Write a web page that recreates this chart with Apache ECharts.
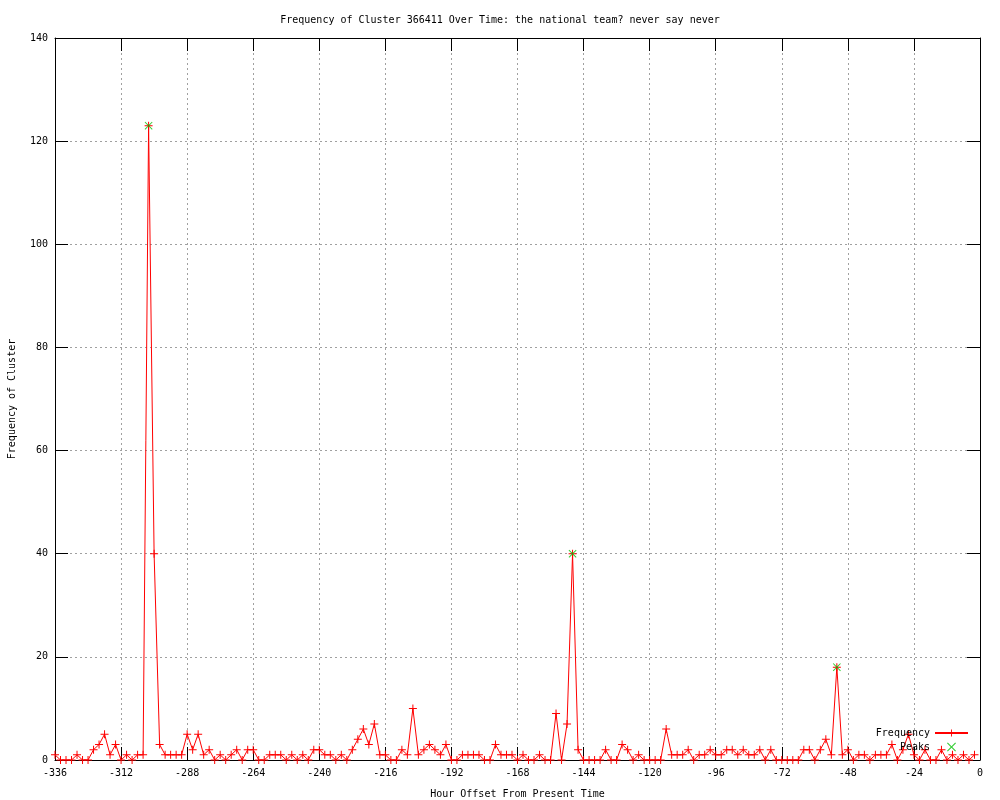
<!DOCTYPE html>
<html>
<head>
<meta charset="utf-8">
<script src="https://cdn.jsdelivr.net/npm/echarts@6/dist/echarts.min.js"></script>
<style>
html,body{margin:0;padding:0;background:#fff;}
#chart{width:1000px;height:800px;}
</style>
</head>
<body>
<div id="chart"></div>
<script>
const chartTitle = 'Frequency of Cluster 366411 Over Time: the national team? never say never';
const xAxisTitle = 'Hour Offset From Present Time';
const yAxisTitle = 'Frequency of Cluster';

const hours = [
-336,-334,-332,-330,-328,-326,-324,-322,-320,-318,
-316,-314,-312,-310,-308,-306,-304,-302,-300,-298,
-296,-294,-292,-290,-288,-286,-284,-282,-280,-278,
-276,-274,-272,-270,-268,-266,-264,-262,-260,-258,
-256,-254,-252,-250,-248,-246,-244,-242,-240,-238,
-236,-234,-232,-230,-228,-226,-224,-222,-220,-218,
-216,-214,-212,-210,-208,-206,-204,-202,-200,-198,
-196,-194,-192,-190,-188,-186,-184,-182,-180,-178,
-176,-174,-172,-170,-168,-166,-164,-162,-160,-158,
-156,-154,-152,-150,-148,-146,-144,-142,-140,-138,
-136,-134,-132,-130,-128,-126,-124,-122,-120,-118,
-116,-114,-112,-110,-108,-106,-104,-102,-100,-98,
-96,-94,-92,-90,-88,-86,-84,-82,-80,-78,
-76,-74,-72,-70,-68,-66,-64,-62,-60,-58,
-56,-54,-52,-50,-48,-46,-44,-42,-40,-38,
-36,-34,-32,-30,-28,-26,-24,-22,-20,-18,
-16,-14,-12,-10,-8,-6,-4,-2
];

const frequency = [
1,0,0,0,1,0,0,2,3,5,
1,3,0,1,0,1,1,123,40,3,
1,1,1,1,5,2,5,1,2,0,
1,0,1,2,0,2,2,0,0,1,
1,1,0,1,0,1,0,2,2,1,
1,0,1,0,2,4,6,3,7,1,
1,0,0,2,1,10,1,2,3,2,
1,3,0,0,1,1,1,1,0,0,
3,1,1,1,0,1,0,0,1,0,
0,9,0,7,40,2,0,0,0,0,
2,0,0,3,2,0,1,0,0,0,
0,6,1,1,1,2,0,1,1,2,
1,1,2,2,1,2,1,1,2,0,
2,0,0,0,0,0,2,2,0,2,
4,1,18,1,2,0,1,1,0,1,
1,1,3,0,2,5,1,0,2,0,
0,2,0,1,0,1,0,1
];

const peakHours = [-302, -148, -52];
const peakValues = [123, 40, 18];

const xTicks = { min: -336, max: 0, interval: 24 };
const yTicks = { min: 0, max: 140, interval: 20 };

const font = 'DejaVu Sans Mono';
const plusSymbol = 'path://M3.5,0h1v8h-1zM0,3.5h8v1h-8z';
const crossSymbol = 'path://M0,0.7L0.7,0L4,3.3L7.3,0L8,0.7L4.7,4L8,7.3L7.3,8L4,4.7L0.7,8L0,7.3L3.3,4Z';

const freqData = hours.map((h, i) => [h, frequency[i]]);
const peakData = peakHours.map((h, i) => [h, peakValues[i]]);

const gridLine = { show: true, lineStyle: { color: '#a0a0a0', type: [2, 3], width: 1 } };
const tickStyle = { show: true, inside: true, length: 13, lineStyle: { color: '#000', width: 1 } };

const chart = echarts.init(document.getElementById('chart'), null, { renderer: 'canvas' });
chart.setOption({
  backgroundColor: '#fff',
  animation: false,
  textStyle: { fontFamily: font },
  title: {
    text: chartTitle,
    left: 'center',
    top: 10,
    textStyle: { fontFamily: font, fontSize: 10, fontWeight: 'normal', color: '#000' }
  },
  grid: { left: 55, top: 38, width: 925, height: 722, containLabel: false, outerBoundsMode: 'none' },
  legend: {
    orient: 'vertical',
    right: 26,
    top: 723,
    align: 'right',
    itemWidth: 33,
    itemHeight: 9,
    itemGap: 4,
    textStyle: { fontFamily: font, fontSize: 10, color: '#000' },
    data: ['Frequency', 'Peaks']
  },
  xAxis: [{
    type: 'value',
    min: xTicks.min, max: xTicks.max, interval: xTicks.interval,
    name: xAxisTitle,
    nameLocation: 'middle',
    nameGap: 29,
    nameTextStyle: { fontFamily: font, fontSize: 10, color: '#000' },
    axisLine: { show: true, onZero: false, lineStyle: { color: '#000', width: 1 } },
    axisTick: tickStyle,
    axisLabel: { fontFamily: font, fontSize: 10, color: '#000', margin: 8 },
    splitLine: gridLine
  }, {
    type: 'value', position: 'top',
    min: xTicks.min, max: xTicks.max, interval: xTicks.interval,
    axisLine: { show: true, onZero: false, lineStyle: { color: '#000', width: 1 } },
    axisTick: tickStyle,
    axisLabel: { show: false },
    splitLine: { show: false }
  }],
  yAxis: [{
    type: 'value',
    min: yTicks.min, max: yTicks.max, interval: yTicks.interval,
    name: yAxisTitle,
    nameLocation: 'middle',
    nameGap: 38,
    nameTextStyle: { fontFamily: font, fontSize: 10, color: '#000' },
    axisLine: { show: true, onZero: false, lineStyle: { color: '#000', width: 1 } },
    axisTick: tickStyle,
    axisLabel: { fontFamily: font, fontSize: 10, color: '#000', margin: 7 },
    splitLine: gridLine
  }, {
    type: 'value', position: 'right',
    min: yTicks.min, max: yTicks.max, interval: yTicks.interval,
    axisLine: { show: true, onZero: false, lineStyle: { color: '#000', width: 1 } },
    axisTick: tickStyle,
    axisLabel: { show: false },
    splitLine: { show: false }
  }],
  series: [{
    name: 'Frequency',
    type: 'line',
    data: freqData,
    xAxisIndex: 0, yAxisIndex: 0,
    symbol: plusSymbol,
    symbolSize: 8,
    showAllSymbol: true,
    lineStyle: { color: '#ff0000', width: 1 },
    itemStyle: { color: '#ff0000' },
    emphasis: { disabled: true },
    z: 2
  }, {
    name: 'Peaks',
    type: 'scatter',
    data: peakData,
    xAxisIndex: 0, yAxisIndex: 0,
    symbol: crossSymbol,
    symbolSize: 8,
    itemStyle: { color: '#00c000' },
    emphasis: { disabled: true },
    z: 3
  }]
});
</script>
</body>
</html>
